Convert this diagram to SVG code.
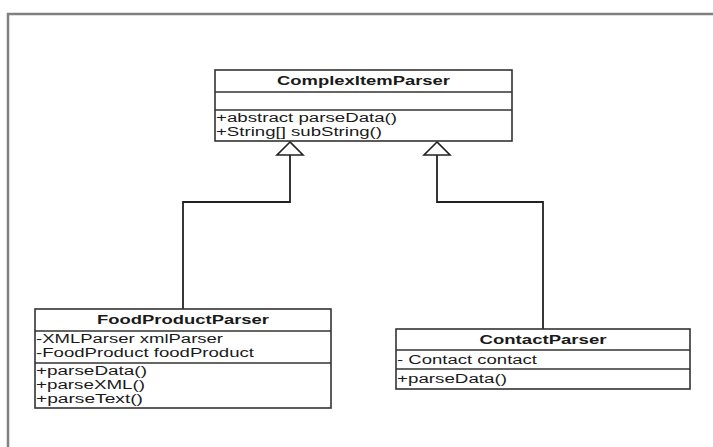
<svg xmlns="http://www.w3.org/2000/svg" width="713" height="447" viewBox="0 0 713 447">
<style>
.box{fill:#fff;stroke:#333;stroke-width:1.6}
.div{stroke:#333;stroke-width:1.6}
.t{font-family:"Liberation Sans",Arial,sans-serif;font-size:12.5px;fill:#1a1a1a}
.b{font-weight:bold;text-anchor:middle}
.c{fill:none;stroke:#222;stroke-width:1.8}
.h{fill:#fff;stroke:#222;stroke-width:1.6}
</style>
<rect width="713" height="447" fill="#fff"/>
<g id="frame">
<path d="M8,447 V14 H713" fill="none" stroke="#808080" stroke-width="2.5"/>
</g>
<g id="connectors">
<path class="c" d="M290,155 V202 H183 V309"/>
<path class="c" d="M437,155 V202 H543 V329"/>
<polygon class="h" points="290,142 277,155 303,155"/>
<polygon class="h" points="437,142 424,155 450,155"/>
</g>
<g id="ComplexItemParser">
<rect class="box" x="215" y="70" width="297" height="71"/>
<line class="div" x1="215" y1="92" x2="512" y2="92"/>
<line class="div" x1="215" y1="110" x2="512" y2="110"/>
<text class="t b" x="363.5" y="85" textLength="173" lengthAdjust="spacingAndGlyphs">ComplexItemParser</text>
<text class="t" x="216" y="122" textLength="181" lengthAdjust="spacingAndGlyphs">+abstract parseData()</text>
<text class="t" x="216" y="136" textLength="166" lengthAdjust="spacingAndGlyphs">+String[] subString()</text>
</g>
<g id="FoodProductParser">
<rect class="box" x="35" y="309" width="296" height="99"/>
<line class="div" x1="35" y1="331" x2="331" y2="331"/>
<line class="div" x1="35" y1="363" x2="331" y2="363"/>
<text class="t b" x="183" y="324" textLength="172" lengthAdjust="spacingAndGlyphs">FoodProductParser</text>
<text class="t" x="36" y="343" textLength="187" lengthAdjust="spacingAndGlyphs">-XMLParser xmlParser</text>
<text class="t" x="36" y="357" textLength="218" lengthAdjust="spacingAndGlyphs">-FoodProduct foodProduct</text>
<text class="t" x="36" y="375" textLength="111" lengthAdjust="spacingAndGlyphs">+parseData()</text>
<text class="t" x="36" y="389" textLength="109" lengthAdjust="spacingAndGlyphs">+parseXML()</text>
<text class="t" x="36" y="403" textLength="107" lengthAdjust="spacingAndGlyphs">+parseText()</text>
</g>
<g id="ContactParser">
<rect class="box" x="396" y="329" width="294" height="60"/>
<line class="div" x1="396" y1="350" x2="690" y2="350"/>
<line class="div" x1="396" y1="369" x2="690" y2="369"/>
<text class="t b" x="543" y="344" textLength="127" lengthAdjust="spacingAndGlyphs">ContactParser</text>
<text class="t" x="397" y="364" textLength="140" lengthAdjust="spacingAndGlyphs">- Contact contact</text>
<text class="t" x="397" y="383" textLength="110" lengthAdjust="spacingAndGlyphs">+parseData()</text>
</g>
</svg>
